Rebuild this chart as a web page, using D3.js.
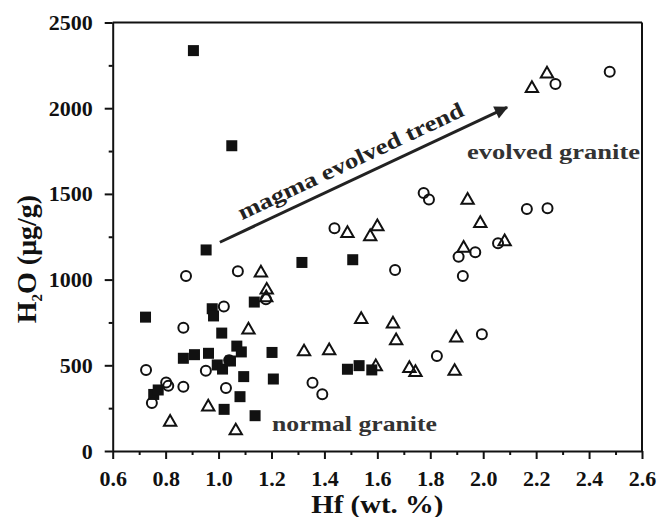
<!DOCTYPE html>
<html>
<head>
<meta charset="utf-8">
<script src="https://cdn.jsdelivr.net/npm/d3@7"></script>
<style>
  body { margin: 0; background: #fff; }
  svg text { font-family: "Liberation Serif", "Times New Roman", serif; font-weight: bold; }
</style>
</head>
<body>
<div id="chart"></div>
<script>
// filled squares
var hfSquare = [0.724, 0.755, 0.772, 0.867, 0.905, 0.909, 0.953, 0.962, 0.976, 0.981, 0.995, 1.012, 1.015, 1.021, 1.045,
  1.05, 1.069, 1.081, 1.086, 1.095, 1.135, 1.138, 1.202, 1.207, 1.315, 1.487, 1.507, 1.531, 1.579];
var h2oSquare = [781, 330, 356, 541, 2336, 562, 1173, 570, 830, 788, 502, 688, 478, 243, 525,
  1781, 612, 317, 578, 434, 869, 206, 575, 420, 1100, 477, 1116, 498, 473];

// open circles
var hfCircle = [0.726, 0.748, 0.802, 0.81, 0.867, 0.867, 0.877, 0.952, 1.02, 1.028, 1.04, 1.073, 1.179, 1.355, 1.392,
  1.438, 1.667, 1.775, 1.795, 1.825, 1.907, 1.923, 1.970, 1.995, 2.056, 2.165, 2.243, 2.273, 2.478];
var h2oCircle = [473, 280, 400, 380, 375, 719, 1021, 468, 843, 368, 530, 1049, 885, 398, 331,
  1299, 1056, 1505, 1468, 554, 1134, 1021, 1159, 681, 1212, 1412, 1416, 2141, 2213];

// open triangles
var hfTriangle = [0.817, 0.961, 1.065, 1.113, 1.160, 1.182, 1.180, 1.323, 1.418, 1.487, 1.573, 1.600, 1.539, 1.659,
  1.671, 1.594, 1.721, 1.744, 1.898, 1.892, 1.926, 1.941, 1.989, 2.081, 2.184, 2.241];
var h2oTriangle = [168, 257, 118, 706, 1039, 939, 895, 579, 585, 1270, 1250, 1309, 768, 741,
  644, 492, 482, 459, 660, 465, 1183, 1464, 1328, 1221, 2116, 2200];

var xTicks = [0.6, 0.8, 1.0, 1.2, 1.4, 1.6, 1.8, 2.0, 2.2, 2.4, 2.6];
var yTicks = [0, 500, 1000, 1500, 2000, 2500];

// arrow (Hf, H2O) start / end
var trendFrom = [1.005, 1218];
var trendTo = [2.09, 2005];

var W = 666, H = 517;
var svg = d3.select("#chart").append("svg")
  .attr("width", W).attr("height", H);
svg.append("rect").attr("width", W).attr("height", H).attr("fill", "#fff");

var x = d3.scaleLinear().domain([0.6, 2.6]).range([112.7, 642]);
var y = d3.scaleLinear().domain([0, 2500]).range([451, 22.5]);

var ink = "#111";

// minor ticks
var xMinor = d3.range(0.7, 2.6, 0.2);
var yMinor = d3.range(250, 2500, 500);

svg.append("g")
  .attr("transform", "translate(0," + y(0) + ")")
  .call(d3.axisBottom(x).tickValues(xMinor).tickSize(4).tickFormat(""))
  .call(function (g) { g.select(".domain").remove(); });
svg.append("g")
  .attr("transform", "translate(" + x(0.6) + ",0)")
  .call(d3.axisLeft(y).tickValues(yMinor).tickSize(4).tickFormat(""))
  .call(function (g) { g.select(".domain").remove(); });

svg.append("g")
  .attr("transform", "translate(0," + y(0) + ")")
  .call(d3.axisBottom(x).tickValues(xTicks).tickSize(8).tickSizeOuter(0).tickPadding(11)
    .tickFormat(d3.format(".1f")));
svg.append("g")
  .attr("transform", "translate(" + x(0.6) + ",0)")
  .call(d3.axisLeft(y).tickValues(yTicks).tickSize(8).tickSizeOuter(0).tickPadding(12)
    .tickFormat(d3.format("d")));

svg.selectAll(".tick line").attr("stroke", ink).attr("stroke-width", 2);
svg.selectAll(".domain").attr("stroke", ink).attr("stroke-width", 2);
svg.selectAll(".tick text").attr("fill", ink).style("font-size", "22px");

// frame top / right
svg.append("line").attr("x1", x(0.6)).attr("x2", x(2.6)).attr("y1", y(2500)).attr("y2", y(2500))
  .attr("stroke", ink).attr("stroke-width", 2);
svg.append("line").attr("x1", x(2.6)).attr("x2", x(2.6)).attr("y1", y(2500)).attr("y2", y(0))
  .attr("stroke", ink).attr("stroke-width", 2);

// axis titles
svg.append("text")
  .attr("x", (x(0.6) + x(2.6)) / 2).attr("y", 513)
  .attr("text-anchor", "middle").attr("fill", ink)
  .style("font-size", "25px")
  .attr("textLength", 132).attr("lengthAdjust", "spacingAndGlyphs")
  .text("Hf (wt. %)");

var yt = svg.append("text")
  .attr("transform", "translate(36,259) rotate(-90)")
  .attr("text-anchor", "middle").attr("fill", ink)
  .style("font-size", "28px");
yt.append("tspan").text("H");
yt.append("tspan").attr("dy", 6).style("font-size", "15px").text("2");
yt.append("tspan").attr("dy", -6).text("O (μg/g)");

// points
var squares = d3.zip(hfSquare, h2oSquare);
var circles = d3.zip(hfCircle, h2oCircle);
var triangles = d3.zip(hfTriangle, h2oTriangle);

svg.append("g").selectAll("rect").data(squares).join("rect")
  .attr("x", function (d) { return x(d[0]) - 5.5; })
  .attr("y", function (d) { return y(d[1]) - 5.5; })
  .attr("width", 11).attr("height", 11)
  .attr("fill", ink);

svg.append("g").selectAll("circle").data(circles).join("circle")
  .attr("cx", function (d) { return x(d[0]); })
  .attr("cy", function (d) { return y(d[1]); })
  .attr("r", 5)
  .attr("fill", "none").attr("stroke", ink).attr("stroke-width", 2);

var tri = d3.symbol().type(d3.symbolTriangle).size(66);
svg.append("g").selectAll("path").data(triangles).join("path")
  .attr("d", tri)
  .attr("transform", function (d) { return "translate(" + x(d[0]) + "," + y(d[1]) + ")"; })
  .attr("fill", "none").attr("stroke", ink).attr("stroke-width", 2);

// trend arrow
svg.append("defs").append("marker")
  .attr("id", "head").attr("viewBox", "0 0 10 10")
  .attr("refX", 9).attr("refY", 5)
  .attr("markerWidth", 5).attr("markerHeight", 4.5)
  .attr("markerUnits", "strokeWidth")
  .attr("orient", "auto")
  .append("path").attr("d", "M0,0 L10,5 L0,10 Z").attr("fill", "#222");

var ax1 = x(trendFrom[0]), ay1 = y(trendFrom[1]);
var ax2 = x(trendTo[0]), ay2 = y(trendTo[1]);
svg.append("line")
  .attr("x1", ax1).attr("y1", ay1).attr("x2", ax2).attr("y2", ay2)
  .attr("stroke", "#222").attr("stroke-width", 3)
  .attr("marker-end", "url(#head)");

var angle = Math.atan2(ay2 - ay1, ax2 - ax1) * 180 / Math.PI;
svg.append("text")
  .attr("transform", "translate(" + (ax1 + 22) + "," + (ay1 - 22) + ") rotate(" + angle + ")")
  .attr("fill", "#222").style("font-size", "22px")
  .attr("textLength", 247).attr("lengthAdjust", "spacingAndGlyphs")
  .text("magma evolved trend");

svg.append("text")
  .attr("x", 467).attr("y", 159)
  .attr("fill", "#333").style("font-size", "22px")
  .attr("textLength", 173).attr("lengthAdjust", "spacingAndGlyphs")
  .text("evolved granite");

svg.append("text")
  .attr("x", 272).attr("y", 431)
  .attr("fill", "#333").style("font-size", "22px")
  .attr("textLength", 165).attr("lengthAdjust", "spacingAndGlyphs")
  .text("normal granite");
</script>
</body>
</html>
